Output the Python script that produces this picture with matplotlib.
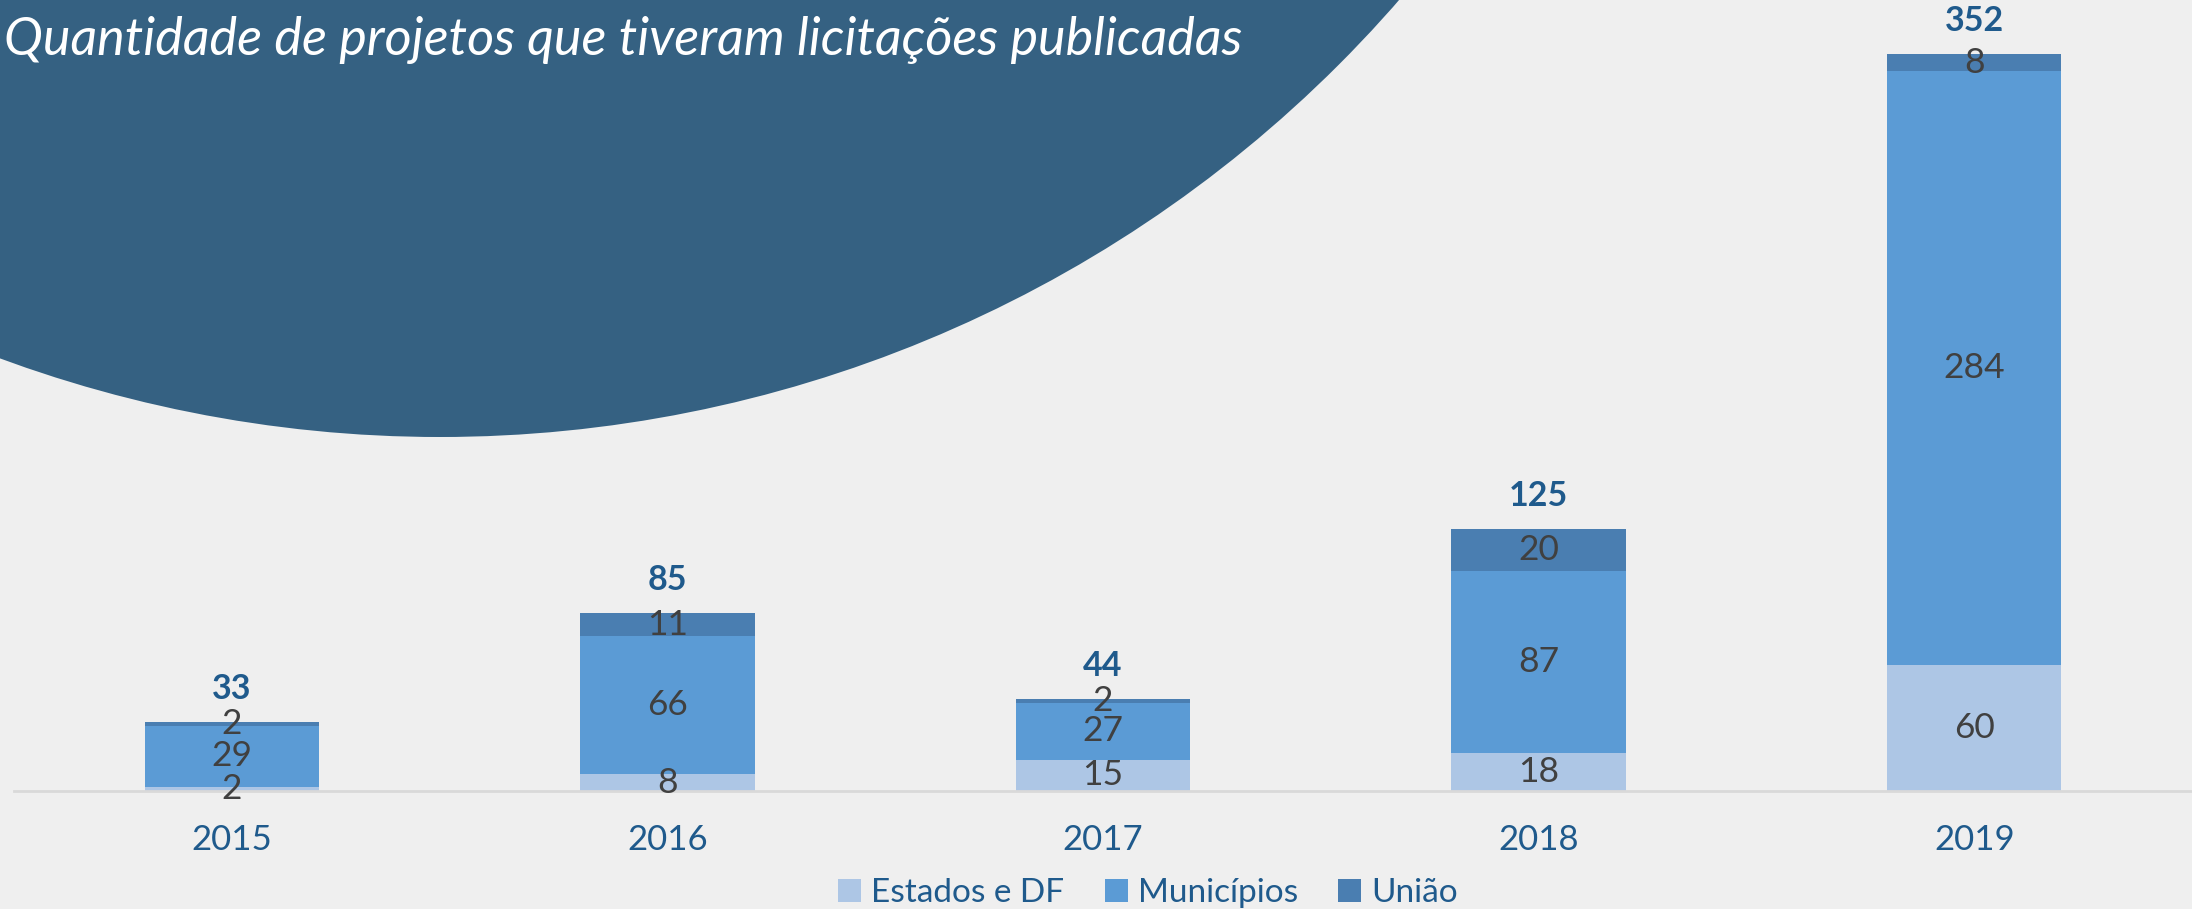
import matplotlib
matplotlib.use("Agg")
import matplotlib.pyplot as plt
from matplotlib.patches import Circle
import numpy as np

# --- Data ---
years = ["2015", "2016", "2017", "2018", "2019"]
estados = [2, 8, 15, 18, 60]
municipios = [29, 66, 27, 87, 284]
uniao = [2, 11, 2, 20, 8]
totals = [33, 85, 44, 125, 352]
series_names = ["Estados e DF", "Municípios", "União"]

# --- Style ---
BG = "#efefef"
CIRCLE = "#356182"
COLORS = ["#adc6e5", "#5b9bd5", "#4a7eb1"]
YEAR_COLOR = "#1f5a8c"
LABEL_COLOR = "#404040"
FONT = ["Lato", "DejaVu Sans"]

W, H = 2192, 909
fig = plt.figure(figsize=(W / 100, H / 100), dpi=100, facecolor=BG)

# big background circle (figure pixel coords, y from top)
bg_ax = fig.add_axes([0, 0, 1, 1], zorder=0)
bg_ax.set_xlim(0, W)
bg_ax.set_ylim(H, 0)
bg_ax.axis("off")
bg_ax.add_patch(Circle((440, -834), 1271, color=CIRCLE, lw=0))
bg_ax.text(4, 40, "Quantidade de projetos que tiveram licitações publicadas",
           color="white", fontsize=37.5, style="italic", family=FONT,
           ha="left", va="center")

# --- Bars ---
ax = fig.add_axes([14 / W, 1 - 791 / H, 1 - 14 / W, 791 / H], zorder=1)
ax.patch.set_alpha(0)
x = np.arange(len(years))
width = 0.4
bottom = np.zeros(len(years))
for vals, color, name in zip([estados, municipios, uniao], COLORS, series_names):
    vals = np.array(vals)
    ax.bar(x, vals, width, bottom=bottom, color=color, label=name)
    for xi, b, v in zip(x, bottom, vals):
        ax.text(xi, b + v / 2, str(v), ha="center", va="center",
                fontsize=25.5, color=LABEL_COLOR, family=FONT)
    bottom += vals

for xi, t in zip(x, totals):
    ax.annotate(str(t), (xi, t), xytext=(0, 33), textcoords="offset pixels",
                ha="center", va="center", fontsize=24.5, fontweight="bold",
                color=YEAR_COLOR, family=FONT)

ax.set_xlim(-0.5, 4.5)
ax.set_ylim(0, 378)
ax.set_yticks([])
ax.set_xticks(x)
ax.set_xticklabels(years, fontsize=25, color=YEAR_COLOR, family=FONT)
ax.tick_params(axis="x", length=0, pad=24)
for s in ["top", "right", "left"]:
    ax.spines[s].set_visible(False)
ax.spines["bottom"].set_color("#d9d9d9")
ax.spines["bottom"].set_linewidth(2)

leg = fig.legend(loc="center", bbox_to_anchor=(1148 / W, 1 - 893 / H), ncol=3,
                 frameon=False, prop={"family": FONT, "size": 24},
                 handlelength=0.7, handleheight=0.7, handletextpad=0.3,
                 columnspacing=1.2)
for t in leg.get_texts():
    t.set_color(YEAR_COLOR)

fig.savefig("out.png", dpi=100, facecolor=BG)
